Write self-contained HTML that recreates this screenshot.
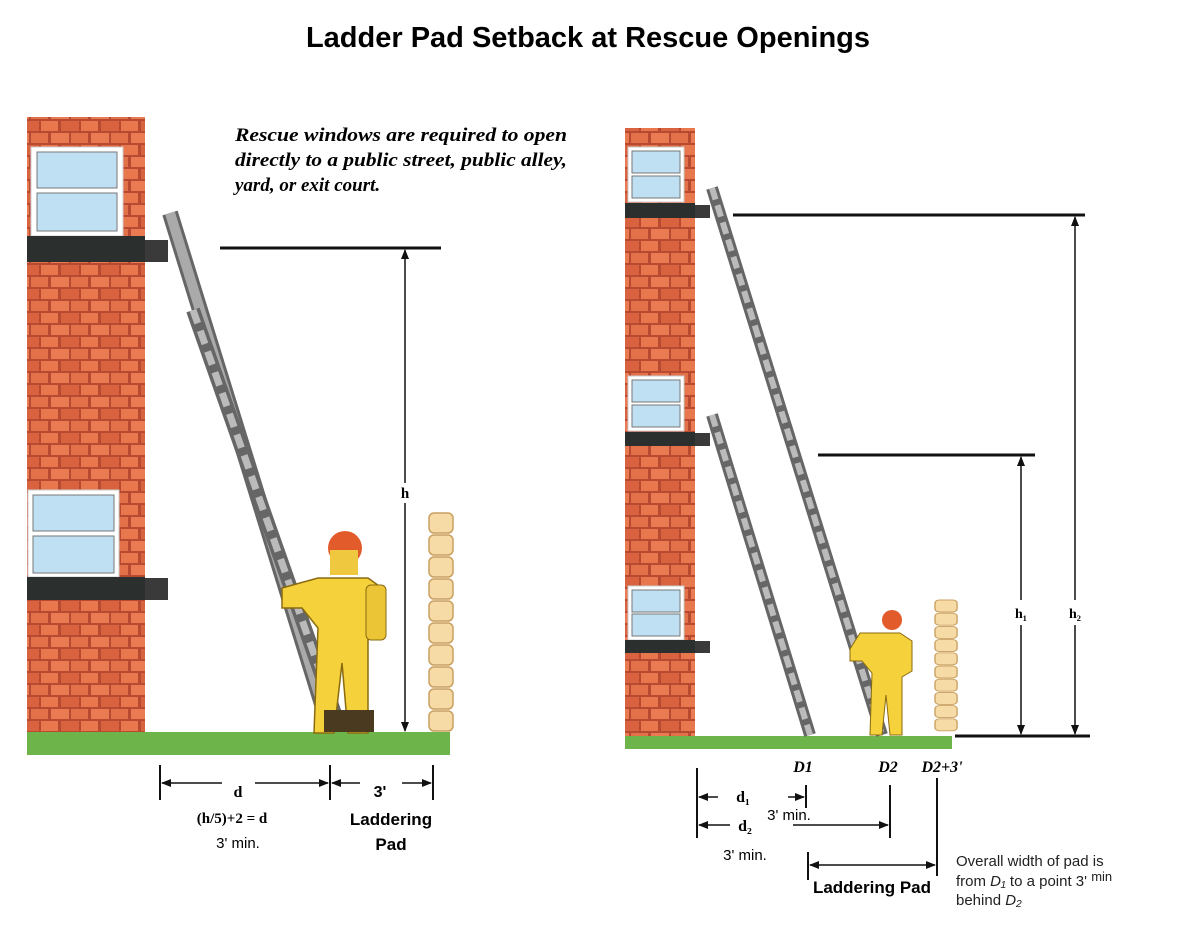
<!DOCTYPE html>
<html><head><meta charset="utf-8"><style>
body{margin:0;background:#fff}
svg{display:block}
text{font-family:"Liberation Sans",sans-serif}
.s{font-family:"Liberation Serif",serif;font-weight:bold}
</style></head><body>
<svg width="1200" height="928" viewBox="0 0 1200 928" xmlns="http://www.w3.org/2000/svg">
<defs>
<pattern id="br" width="40" height="24" patternUnits="userSpaceOnUse">
<rect width="40" height="24" fill="#b94a32"/>
<rect x="1" y="1" width="17" height="10" fill="#e9774e"/><rect x="21" y="1" width="18" height="10" fill="#d9633f"/>
<rect x="-9" y="13" width="17" height="10" fill="#e27049"/><rect x="11" y="13" width="18" height="10" fill="#ea7a52"/><rect x="31" y="13" width="17" height="10" fill="#e27049"/>
</pattern>
<marker id="a" markerWidth="10" markerHeight="8" refX="9" refY="4" orient="auto-start-reverse" markerUnits="userSpaceOnUse"><path d="M0,0 L10,4 L0,8 z" fill="#111"/></marker>
<g id="pad"><rect x="0" y="0" width="24" height="20" rx="5" fill="#f6dba6" stroke="#c9a060" stroke-width="1.5"/></g>
</defs>
<text x="588" y="47" font-size="29" font-weight="bold" text-anchor="middle">Ladder Pad Setback at Rescue Openings</text>

<!-- LEFT -->
<rect x="27" y="117" width="118" height="615" fill="url(#br)"/>
<rect x="31" y="147" width="92" height="89" fill="#fff" stroke="#ccc"/>
<rect x="37" y="152" width="80" height="36" fill="#bfe0f3" stroke="#777"/>
<rect x="37" y="193" width="80" height="38" fill="#bfe0f3" stroke="#777"/>
<rect x="27" y="236" width="118" height="26" fill="#2b2f2d"/>
<rect x="145" y="240" width="23" height="22" fill="#3a3a3a"/>
<rect x="28" y="490" width="91" height="87" fill="#fff" stroke="#ccc"/>
<rect x="33" y="495" width="81" height="36" fill="#bfe0f3" stroke="#777"/>
<rect x="33" y="536" width="81" height="37" fill="#bfe0f3" stroke="#777"/>
<rect x="27" y="577" width="118" height="23" fill="#2b2f2d"/>
<rect x="145" y="578" width="23" height="22" fill="#3a3a3a"/>
<rect x="27" y="732" width="423" height="23" fill="#6db54a"/>
<line x1="170" y1="213" x2="330" y2="730" stroke="#666" stroke-width="16"/>
<line x1="170" y1="213" x2="330" y2="730" stroke="#aaa" stroke-width="10"/>
<line x1="193" y1="310" x2="340" y2="728" stroke="#666" stroke-width="14"/>
<line x1="193" y1="310" x2="340" y2="728" stroke="#bbb" stroke-width="7" stroke-dasharray="14 8"/>
<circle cx="345" cy="548" r="17" fill="#e25b2a"/>
<rect x="330" y="550" width="28" height="25" fill="#f0c840"/>
<path d="M318,578 h50 l14,10 v40 l-14,10 v95 h-20 l-6,-70 l-8,70 h-20 l4,-105 l-16,-20 h-20 v-20 z" fill="#f5d23c" stroke="#8a6b10" stroke-width="1.5"/>
<rect x="366" y="585" width="20" height="55" rx="5" fill="#ecc537" stroke="#8a6b10"/>
<rect x="324" y="710" width="50" height="22" fill="#4a3a20"/>
<g transform="translate(429,513)"><use href="#pad" y="0"/><use href="#pad" y="22"/><use href="#pad" y="44"/><use href="#pad" y="66"/><use href="#pad" y="88"/><use href="#pad" y="110"/><use href="#pad" y="132"/><use href="#pad" y="154"/><use href="#pad" y="176"/><use href="#pad" y="198"/></g>
<line x1="220" y1="248" x2="441" y2="248" stroke="#111" stroke-width="3"/>
<line x1="405" y1="250" x2="405" y2="483" stroke="#111" stroke-width="1.5" marker-start="url(#a)"/>
<line x1="405" y1="503" x2="405" y2="731" stroke="#111" stroke-width="1.5" marker-end="url(#a)"/>
<text x="405" y="498" class="s" font-size="15" text-anchor="middle">h</text>
<text class="s" font-style="italic" font-size="19" textLength="332" lengthAdjust="spacingAndGlyphs"><tspan x="235" y="141">Rescue windows are required to open</tspan></text>
<text class="s" font-style="italic" font-size="19" x="235" y="166" textLength="332" lengthAdjust="spacingAndGlyphs">directly to a public street, public alley,</text>
<text class="s" font-style="italic" font-size="19" x="235" y="191">yard, or exit court.</text>
<g stroke="#111" stroke-width="2"><line x1="160" y1="765" x2="160" y2="800"/><line x1="330" y1="765" x2="330" y2="800"/><line x1="433" y1="765" x2="433" y2="800"/></g>
<line x1="162" y1="783" x2="222" y2="783" stroke="#111" stroke-width="1.5" marker-start="url(#a)"/>
<line x1="255" y1="783" x2="328" y2="783" stroke="#111" stroke-width="1.5" marker-end="url(#a)"/>
<line x1="332" y1="783" x2="360" y2="783" stroke="#111" stroke-width="1.5" marker-start="url(#a)"/>
<line x1="402" y1="783" x2="431" y2="783" stroke="#111" stroke-width="1.5" marker-end="url(#a)"/>
<text x="238" y="797" class="s" font-size="16" text-anchor="middle">d</text>
<text x="380" y="797" font-size="16" font-weight="bold" text-anchor="middle">3'</text>
<text x="232" y="823" class="s" font-size="15" text-anchor="middle">(h/5)+2 = d</text>
<text x="238" y="848" font-size="15" text-anchor="middle">3' min.</text>
<text x="391" y="825" font-size="17" font-weight="bold" text-anchor="middle">Laddering</text>
<text x="391" y="850" font-size="17" font-weight="bold" text-anchor="middle">Pad</text>

<!-- RIGHT -->
<rect x="625" y="128" width="70" height="609" fill="url(#br)"/>
<rect x="628" y="147" width="56" height="55" fill="#fff" stroke="#ccc"/>
<rect x="632" y="151" width="48" height="22" fill="#bfe0f3" stroke="#777"/><rect x="632" y="176" width="48" height="22" fill="#bfe0f3" stroke="#777"/>
<rect x="625" y="203" width="70" height="15" fill="#2b2f2d"/><rect x="695" y="205" width="15" height="13" fill="#3a3a3a"/>
<rect x="628" y="376" width="56" height="55" fill="#fff" stroke="#ccc"/>
<rect x="632" y="380" width="48" height="22" fill="#bfe0f3" stroke="#777"/><rect x="632" y="405" width="48" height="22" fill="#bfe0f3" stroke="#777"/>
<rect x="625" y="432" width="70" height="14" fill="#2b2f2d"/><rect x="695" y="433" width="15" height="13" fill="#3a3a3a"/>
<rect x="628" y="586" width="56" height="54" fill="#fff" stroke="#ccc"/>
<rect x="632" y="590" width="48" height="22" fill="#bfe0f3" stroke="#777"/><rect x="632" y="614" width="48" height="22" fill="#bfe0f3" stroke="#777"/>
<rect x="625" y="640" width="70" height="13" fill="#2b2f2d"/><rect x="695" y="641" width="15" height="12" fill="#3a3a3a"/>
<rect x="625" y="736" width="327" height="13" fill="#6db54a"/>
<line x1="712" y1="188" x2="882" y2="735" stroke="#666" stroke-width="12"/>
<line x1="712" y1="188" x2="882" y2="735" stroke="#bbb" stroke-width="6" stroke-dasharray="12 6"/>
<line x1="712" y1="415" x2="810" y2="735" stroke="#666" stroke-width="12"/>
<line x1="712" y1="415" x2="810" y2="735" stroke="#bbb" stroke-width="6" stroke-dasharray="12 6"/>
<circle cx="892" cy="620" r="10" fill="#e25b2a"/>
<path d="M860,633 h40 l12,8 v30 l-10,6 v58 h-12 l-4,-40 l-4,40 h-12 l2,-62 l-10,-12 h-12 v-12 z" fill="#f5d23c" stroke="#8a6b10"/>
<g transform="translate(935,600) scale(0.92,0.6)"><use href="#pad" y="0"/><use href="#pad" y="22"/><use href="#pad" y="44"/><use href="#pad" y="66"/><use href="#pad" y="88"/><use href="#pad" y="110"/><use href="#pad" y="132"/><use href="#pad" y="154"/><use href="#pad" y="176"/><use href="#pad" y="198"/></g>
<line x1="733" y1="215" x2="1085" y2="215" stroke="#111" stroke-width="3"/>
<line x1="818" y1="455" x2="1035" y2="455" stroke="#111" stroke-width="3"/>
<line x1="955" y1="736" x2="1090" y2="736" stroke="#111" stroke-width="3"/>
<line x1="1075" y1="217" x2="1075" y2="600" stroke="#111" stroke-width="1.5" marker-start="url(#a)"/>
<line x1="1075" y1="625" x2="1075" y2="734" stroke="#111" stroke-width="1.5" marker-end="url(#a)"/>
<line x1="1021" y1="457" x2="1021" y2="600" stroke="#111" stroke-width="1.5" marker-start="url(#a)"/>
<line x1="1021" y1="625" x2="1021" y2="734" stroke="#111" stroke-width="1.5" marker-end="url(#a)"/>
<text x="1021" y="618" class="s" font-size="14" text-anchor="middle">h₁</text>
<text x="1075" y="618" class="s" font-size="14" text-anchor="middle">h₂</text>
<text x="803" y="772" class="s" font-style="italic" font-size="16" text-anchor="middle">D1</text>
<text x="888" y="772" class="s" font-style="italic" font-size="16" text-anchor="middle">D2</text>
<text x="942" y="772" class="s" font-style="italic" font-size="16" text-anchor="middle">D2+3'</text>
<g stroke="#111" stroke-width="2"><line x1="697" y1="768" x2="697" y2="838"/><line x1="806" y1="785" x2="806" y2="808"/><line x1="890" y1="785" x2="890" y2="838"/><line x1="937" y1="778" x2="937" y2="876"/><line x1="808" y1="852" x2="808" y2="880"/></g>
<line x1="699" y1="797" x2="718" y2="797" stroke="#111" stroke-width="1.5" marker-start="url(#a)"/>
<line x1="788" y1="797" x2="804" y2="797" stroke="#111" stroke-width="1.5" marker-end="url(#a)"/>
<line x1="699" y1="825" x2="730" y2="825" stroke="#111" stroke-width="1.5" marker-start="url(#a)"/>
<line x1="793" y1="825" x2="888" y2="825" stroke="#111" stroke-width="1.5" marker-end="url(#a)"/>
<line x1="810" y1="865" x2="935" y2="865" stroke="#111" stroke-width="1.5" marker-start="url(#a)" marker-end="url(#a)"/>
<text x="743" y="802" class="s" font-size="16" text-anchor="middle">d₁</text>
<text x="789" y="820" font-size="15" text-anchor="middle">3' min.</text>
<text x="745" y="831" class="s" font-size="16" text-anchor="middle">d₂</text>
<text x="745" y="860" font-size="15" text-anchor="middle">3' min.</text>
<text x="872" y="893" font-size="17" font-weight="bold" text-anchor="middle">Laddering Pad</text>
<text font-size="15" fill="#222"><tspan x="956" y="866">Overall width of pad is</tspan><tspan x="956" y="886">from <tspan font-style="italic">D₁</tspan>  to  a  point  3' <tspan dy="-5" font-size="13">min</tspan></tspan><tspan x="956" y="905">behind <tspan font-style="italic">D₂</tspan></tspan></text>
</svg>
</body></html>
